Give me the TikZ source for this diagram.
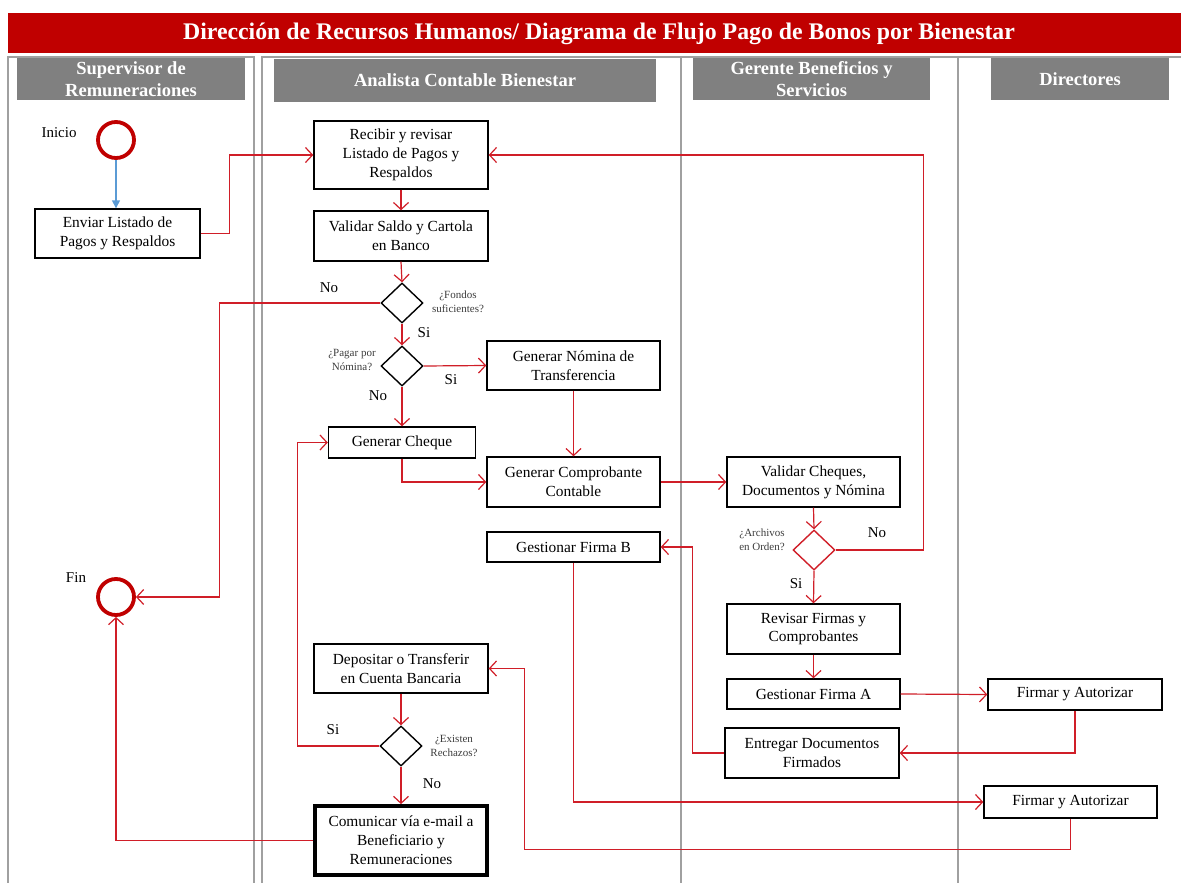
\documentclass[tikz,border=0pt]{standalone}
\usepackage{fontspec}
\setmainfont{Liberation Serif}
\usetikzlibrary{shapes.geometric,arrows.meta}
\definecolor{hdrred}{RGB}{192,0,0}
\definecolor{hdrgrey}{RGB}{128,128,128}
\definecolor{lanegrey}{RGB}{160,160,160}
\definecolor{flowred}{RGB}{208,30,40}
\definecolor{flowblue}{RGB}{91,155,213}
\definecolor{qgrey}{RGB}{60,60,60}
\tikzset{
  lanehead/.style={fill=hdrgrey, draw=none, text=white, font=\fontsize{18.5}{22}\selectfont\bfseries, align=center, inner sep=0pt},
  task/.style={draw=black, line width=1.4pt, fill=white, align=center, inner sep=0pt,
    font=\fontsize{15.4}{18.8}\selectfont},
  decision/.style={diamond, draw=black, line width=1.4pt, fill=white, minimum width=42pt, minimum height=40pt, inner sep=0pt},
  event/.style={circle, draw=hdrred, line width=3.8pt, minimum size=36pt, inner sep=0pt},
  flow/.style={draw=flowred, line width=1.2pt, -{Straight Barb[length=7pt,width=15pt,line width=1.2pt]}},
  answer/.style={font=\fontsize{15}{17}\selectfont, inner sep=0pt},
  question/.style={font=\fontsize{11}{13.5}\selectfont, text=qgrey, align=center, inner sep=0pt},
}
\begin{document}
\begin{tikzpicture}[x=1pt,y=-1pt]
\useasboundingbox (0,0) rectangle (1181,883);

% title bar
\fill[hdrred] (8,13) rectangle (1181,53);
\node[text=white, font=\fontsize{23.8}{26}\selectfont\bfseries] (title) at (599,34)
  {Dirección de Recursos Humanos/ Diagrama de Flujo Pago de Bonos por Bienestar};

% swimlane frames
\draw[lanegrey, line width=1.6pt] (8,883) -- (8,57) -- (254,57) -- (254,883);
\draw[lanegrey, line width=1.6pt] (262,883) -- (262,57) -- (1185,57);
\draw[lanegrey, line width=1.6pt] (681,57) -- (681,883);
\draw[lanegrey, line width=1.6pt] (958,57) -- (958,883);

% lane headers
\node[lanehead, minimum width=228pt, minimum height=42pt] (h1) at (131,79) {Supervisor de\\Remuneraciones};
\node[lanehead, minimum width=382pt, minimum height=43pt] (h2) at (465,80.5) {Analista Contable Bienestar};
\node[lanehead, minimum width=237pt, minimum height=42pt] (h3) at (811.5,79) {Gerente Beneficios y\\Servicios};
\node[lanehead, minimum width=178pt, minimum height=42pt] (h4) at (1080,79) {Directores};

% events
\node[event] (inicio) at (116,140) {};
\node[answer] (linicio) at (59,133) {Inicio};
\node[event] (fin) at (116,597) {};
\node[answer] (lfin) at (76,578) {Fin};

% tasks
\node[task, minimum width=165pt, minimum height=49pt] (enviar) at (117.5,233.5) {Enviar Listado de\\Pagos y Respaldos};
\node[task, minimum width=174pt, minimum height=68pt] (recibir) at (401,155) {Recibir y revisar\\Listado de Pagos y\\Respaldos};
\node[task, minimum width=174pt, minimum height=50pt] (validar) at (401,236) {Validar Saldo y Cartola\\en Banco};
\node[task, minimum width=173pt, minimum height=49pt] (nomina) at (573.5,365.5) {Generar Nómina de\\Transferencia};
\node[task, minimum width=147pt, minimum height=31pt] (cheque) at (402,442.5) {Generar Cheque};
\node[task, minimum width=173pt, minimum height=50pt] (comprob) at (573.5,482) {Generar Comprobante\\Contable};
\node[task, minimum width=173pt, minimum height=50pt] (valch) at (813.5,482) {Validar Cheques,\\Documentos y Nómina};
\node[task, minimum width=173pt, minimum height=30pt] (firmaB) at (573.5,547) {Gestionar Firma B};
\node[task, minimum width=173pt, minimum height=50pt] (revisar) at (813.5,629) {Revisar Firmas y\\Comprobantes};
\node[task, minimum width=173pt, minimum height=30pt] (firmaA) at (813.5,694) {Gestionar Firma A};
\node[task, minimum width=174pt, minimum height=31pt] (firmar1) at (1075,694.5) {Firmar y Autorizar};
\node[task, minimum width=174pt, minimum height=50pt] (entregar) at (812,753) {Entregar Documentos\\Firmados};
\node[task, minimum width=173pt, minimum height=32pt] (firmar2) at (1070.5,802) {Firmar y Autorizar};
\node[task, minimum width=174pt, minimum height=49pt] (depositar) at (401,668.5) {Depositar o Transferir\\en Cuenta Bancaria};
\node[task, line width=3.8pt, minimum width=172pt, minimum height=69pt] (comunicar) at (401,840.5) {Comunicar vía e-mail a\\Beneficiario y\\Remuneraciones};

% decisions
\node[decision] (d1) at (402,303) {};
\node[decision] (d2) at (402,366) {};
\node[decision, draw=flowred] (d3) at (814,550) {};
\node[decision] (d4) at (401,746) {};

\node[question] (q1) at (458,302) {¿Fondos\\suficientes?};
\node[question] (q2) at (352,360) {¿Pagar por\\Nómina?};
\node[question] (q3) at (762,540) {¿Archivos\\en Orden?};
\node[question] (q4) at (454,746) {¿Existen\\Rechazos?};

% answer labels
\node[answer] (a1) at (329,288) {No};
\node[answer] (a2) at (424,333) {Si};
\node[answer] (a3) at (451,380) {Si};
\node[answer] (a4) at (378,396) {No};
\node[answer] (a5) at (877,533) {No};
\node[answer] (a6) at (796,584) {Si};
\node[answer] (a7) at (333,730) {Si};
\node[answer] (a8) at (432,784) {No};

% connectors
\draw[flowblue, line width=1.4pt, -{Triangle[length=8pt,width=8pt]}] (inicio.south) -- (inicio.south |- enviar.north);
\draw[flow] (enviar.east) -- ++(29,0) |- (recibir.west);
\draw[flow] (recibir.south) -- (validar.north);
\draw[flow] (validar.south) -- (d1.north);
\draw[flow] (d1.south) -- (d2.north);
\draw[flow] (d1.west) -- ++(-161,0) |- (fin.east);
\draw[flow] (d2.east) -- (nomina.west);
\draw[flow] (d2.south) -- (cheque.north);
\draw[flow] (nomina.south) -- (comprob.north);
\draw[flow] (cheque.south) |- (comprob.west);
\draw[flow] (comprob.east) -- (valch.west);
\draw[flow] (valch.south) -- (d3.north);
\draw[flow] (d3.east) -- ++(88,0) |- (recibir.east);
\draw[flow] (d3.south) -- (revisar.north);
\draw[flow] (revisar.south) -- (firmaA.north);
\draw[flow] (firmaA.east) -- (firmar1.west);
\draw[flow] (firmar1.south) |- (entregar.east);
\draw[flow] (entregar.west) -- ++(-32,0) |- (firmaB.east);
\draw[flow] (firmaB.south) |- (firmar2.west);
\draw[flow] (firmar2.south) |- ++(-546,31) |- (depositar.east);
\draw[flow] (depositar.south) -- (d4.north);
\draw[flow] (d4.south) -- (comunicar.north);
\draw[flow] (d4.west) -- ++(-82,0) |- (cheque.west);
\draw[flow] (comunicar.west) -| (fin.south);
\end{tikzpicture}
\end{document}
